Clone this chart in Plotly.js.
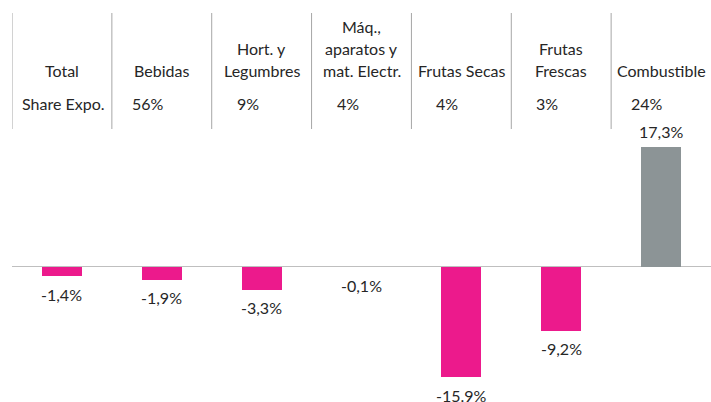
<!DOCTYPE html>
<html>
<head>
<meta charset="utf-8">
<script src="https://cdn.plot.ly/plotly-3.0.1.min.js"></script>
<style>html,body{margin:0;padding:0;background:#fff;}#chart{width:711px;height:402px;}</style>
</head>
<body>
<div id="chart"></div>
<script>
var categories = ["Total", "Bebidas", "Hort. y<br>Legumbres", "Máq.,<br>aparatos y<br>mat. Electr.", "Frutas Secas", "Frutas<br>Frescas", "Combustible"];
var values = [-1.4, -1.9, -3.3, -0.1, -15.9, -9.2, 17.3];
var valueLabels = ["-1,4%", "-1,9%", "-3,3%", "-0,1%", "-15.9%", "-9,2%", "17,3%"];
var shareLabels = ["Share Expo.", "56%", "9%", "4%", "4%", "3%", "24%"];

var W = 711, H = 402;
var PINK = "#EC1A8C", GRAY = "#8C9496", TXT = "#262626";
var FONT = "Lato, 'Open Sans', sans-serif";
var idx = categories.map(function(_, i){ return i; });
function py(p){ return 1 - p / H; }

var trace = {
  type: "bar",
  x: idx,
  y: values,
  width: 0.4,
  marker: { color: values.map(function(v){ return v < 0 ? PINK : GRAY; }) },
  hoverinfo: "skip"
};

var annotations = [];
categories.forEach(function(c, i){
  var lines = c.split("<br>");
  var n = lines.length;
  lines.forEach(function(l, j){
    annotations.push({
      x: i, xref: "x", y: py(70 - 22 * (n - 1 - j)), yref: "paper",
      text: l, showarrow: false, xanchor: "center", yanchor: "middle",
      font: { family: FONT, size: 16, color: TXT }
    });
  });
});
shareLabels.forEach(function(s, i){
  annotations.push({
    x: i, xref: "x", y: py(103), yref: "paper",
    text: s, showarrow: false, xanchor: "center", yanchor: "middle",
    xshift: i === 0 ? 2 : -14,
    font: { family: FONT, size: 16, color: TXT }
  });
});
values.forEach(function(v, i){
  annotations.push({
    x: i, xref: "x", y: v, yref: "y",
    text: valueLabels[i], showarrow: false, xanchor: "center", yanchor: "middle",
    yshift: v < 0 ? -18 : 15,
    font: { family: FONT, size: 16, color: TXT }
  });
});

var shapes = [];
for (var k = 0; k < categories.length; k++) {
  shapes.push({
    type: "line", xref: "x", yref: "paper",
    x0: k - 0.5, x1: k - 0.5, y0: py(13), y1: py(129),
    line: { color: "#A6A6A6", width: 1 }
  });
}

var layout = {
  width: W, height: H,
  margin: { l: 12, r: 0, t: 0, b: 0 },
  paper_bgcolor: "#fff", plot_bgcolor: "#fff",
  showlegend: false,
  bargap: 0,
  xaxis: { range: [-0.5, 6.5], showgrid: false, showticklabels: false, zeroline: false, showline: false, ticks: "" },
  yaxis: { range: [-19.5, 38.43], showgrid: false, showticklabels: false, zeroline: true, zerolinecolor: "#BFBFBF", zerolinewidth: 1.5, showline: false, ticks: "" },
  annotations: annotations,
  shapes: shapes
};

Plotly.newPlot("chart", [trace], layout, { displayModeBar: false, staticPlot: true });
</script>
</body>
</html>
